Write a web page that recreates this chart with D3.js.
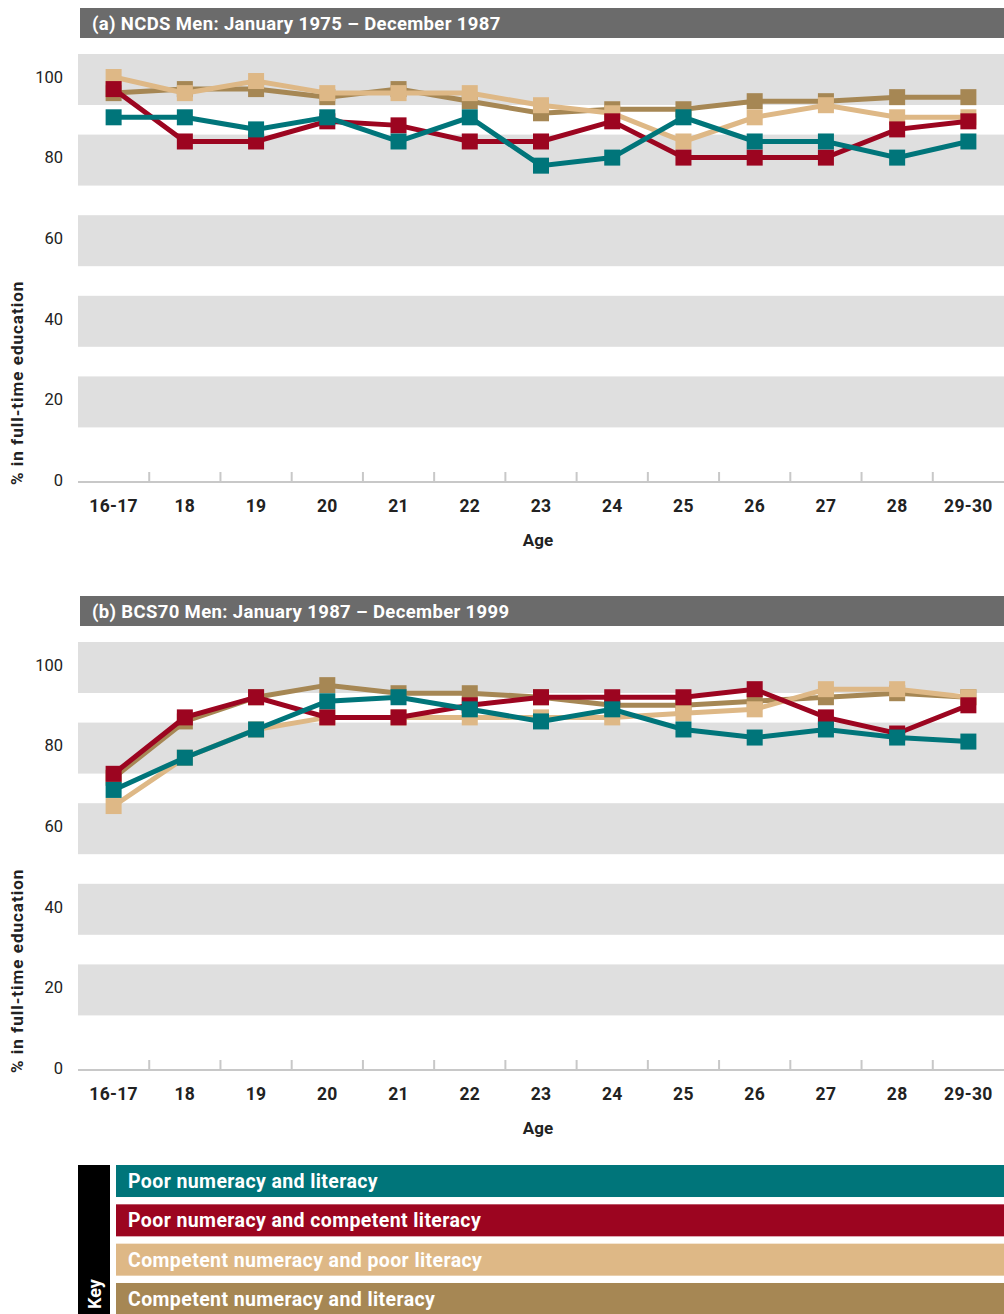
<!DOCTYPE html>
<html>
<head>
<meta charset="utf-8">
<script src="https://cdn.jsdelivr.net/npm/d3@7"></script>
<style>
  body { margin: 0; background: #fff; }
  svg { display: block; font-family: Roboto, "DejaVu Sans", sans-serif; }
</style>
</head>
<body>
<svg id="chart" width="1004" height="1314"></svg>
<script>
'use strict';

// x categories and y ticks
var ages = ['16-17', '18', '19', '20', '21', '22', '23', '24', '25', '26', '27', '28', '29-30'];
var yTicks = [0, 20, 40, 60, 80, 100];

// legend labels, same order as the series arrays below
var seriesNames = [
  'Poor numeracy and literacy',
  'Poor numeracy and competent literacy',
  'Competent numeracy and poor literacy',
  'Competent numeracy and literacy'
];
var seriesColors = ['#00757a', '#9c0520', '#deb886', '#a68754'];

// (a) NCDS
var ncdsPoorBoth = [90, 90, 87, 90, 84, 90, 78, 80, 90, 84, 84, 80, 84];
var ncdsPoorNumCompLit = [97, 84, 84, 89, 88, 84, 84, 89, 80, 80, 80, 87, 89];
var ncdsCompNumPoorLit = [100, 96, 99, 96, 96, 96, 93, 91, 84, 90, 93, 90, 90];
var ncdsCompBoth = [96, 97, 97, 95, 97, 94, 91, 92, 92, 94, 94, 95, 95];

// (b) BCS70
var bcsPoorBoth = [69, 77, 84, 91, 92, 89, 86, 89, 84, 82, 84, 82, 81];
var bcsPoorNumCompLit = [73, 87, 92, 87, 87, 90, 92, 92, 92, 94, 87, 83, 90];
var bcsCompNumPoorLit = [65, 77, 84, 87, 87, 87, 87, 87, 88, 89, 94, 94, 92];
var bcsCompBoth = [72, 86, 92, 95, 93, 93, 92, 90, 90, 91, 92, 93, 92];

var panels = [
  { title: '(a) NCDS Men: January 1975 \u2013 December 1987', top: 0,
    series: [ncdsPoorBoth, ncdsPoorNumCompLit, ncdsCompNumPoorLit, ncdsCompBoth] },
  { title: '(b) BCS70 Men: January 1987 \u2013 December 1999', top: 588,
    series: [bcsPoorBoth, bcsPoorNumCompLit, bcsCompNumPoorLit, bcsCompBoth] }
];

var svg = d3.select('#chart');

var x = d3.scaleBand().domain(ages).range([78, 1004]);
var y = d3.scaleLinear().domain([0, 100]).range([480, 77]);

function cx(a) { return x(a) + x.bandwidth() / 2; }

panels.forEach(function(p) {
  var g = svg.append('g').attr('transform', 'translate(0,' + p.top + ')');

  // title bar
  g.append('rect')
    .attr('x', 80).attr('y', 8).attr('width', 924).attr('height', 30)
    .attr('fill', '#6b6b6b');
  g.append('text')
    .attr('x', 92).attr('y', 29.5)
    .attr('fill', '#fff')
    .style('font-size', '18.5px')
    .style('font-weight', 'bold')
    .style('letter-spacing', '0.35px')
    .text(p.title);

  // grey bands behind the gridline values
  g.selectAll('rect.band')
    .data(yTicks.filter(function(d) { return d > 0; }))
    .enter().append('rect')
    .attr('class', 'band')
    .attr('x', 78)
    .attr('width', 926)
    .attr('y', function(d) { return y(d) - 23; })
    .attr('height', 51)
    .attr('fill', '#dfdfdf');

  // y axis labels
  var yAxis = g.append('g')
    .attr('transform', 'translate(63,0)')
    .call(d3.axisLeft(y).tickValues(yTicks).tickSize(0).tickPadding(0));
  yAxis.select('.domain').remove();
  yAxis.selectAll('text')
    .attr('fill', '#222')
    .style('font-size', '16.5px')
    .style('font-family', 'Roboto, sans-serif');

  g.append('text')
    .attr('transform', 'translate(23,485) rotate(-90)')
    .attr('fill', '#222')
    .style('font-size', '17px')
    .style('font-weight', 'bold')
    .style('letter-spacing', '1px')
    .text('% in full-time education');

  // x axis: line with ticks on the category boundaries
  g.append('line')
    .attr('x1', 78).attr('x2', 1004).attr('y1', 482).attr('y2', 482)
    .attr('stroke', '#c8c8c8').attr('stroke-width', 2);
  g.selectAll('line.tick')
    .data(ages.slice(1))
    .enter().append('line')
    .attr('class', 'tick')
    .attr('x1', function(d) { return x(d); })
    .attr('x2', function(d) { return x(d); })
    .attr('y1', 472).attr('y2', 482)
    .attr('stroke', '#c8c8c8').attr('stroke-width', 2);

  var xAxis = g.append('g')
    .attr('transform', 'translate(0,494)')
    .call(d3.axisBottom(x).tickSize(0).tickPadding(0));
  xAxis.select('.domain').remove();
  xAxis.selectAll('text')
    .attr('fill', '#222')
    .attr('dy', '1em')
    .style('font-size', '17.5px')
    .style('font-weight', 'bold')
    .style('letter-spacing', '0.3px')
    .style('font-family', 'Roboto, sans-serif');

  g.append('text')
    .attr('x', 538).attr('y', 546)
    .attr('text-anchor', 'middle')
    .attr('fill', '#222')
    .style('font-size', '17px')
    .style('font-weight', 'bold')
    .text('Age');

  // lines, drawn back to front so the teal series sits on top
  var line = d3.line()
    .x(function(d, i) { return cx(ages[i]); })
    .y(function(d) { return y(d); });

  [3, 2, 1, 0].forEach(function(k) {
    var s = g.append('g');
    s.append('path')
      .datum(p.series[k])
      .attr('d', line)
      .attr('fill', 'none')
      .attr('stroke', seriesColors[k])
      .attr('stroke-width', 5);
    s.selectAll('rect')
      .data(p.series[k])
      .enter().append('rect')
      .attr('x', function(d, i) { return cx(ages[i]) - 8; })
      .attr('y', function(d) { return y(d) - 8; })
      .attr('width', 16)
      .attr('height', 16)
      .attr('fill', seriesColors[k]);
  });
});

// key
var key = svg.append('g');
key.append('rect')
  .attr('x', 78).attr('y', 1165).attr('width', 32).attr('height', 149)
  .attr('fill', '#000');
key.append('text')
  .attr('transform', 'translate(101,1309) rotate(-90)')
  .attr('fill', '#fff')
  .style('font-size', '18px')
  .style('font-weight', 'bold')
  .text('Key');

var keyRow = d3.scaleBand().domain(seriesNames).range([1165, 1315]).paddingInner(0.186);

var items = key.selectAll('g.item')
  .data(seriesNames)
  .enter().append('g')
  .attr('class', 'item')
  .attr('transform', function(d) { return 'translate(116,' + keyRow(d) + ')'; });

items.append('rect')
  .attr('width', 888)
  .attr('height', keyRow.bandwidth())
  .attr('fill', function(d, i) { return seriesColors[i]; });

items.append('text')
  .attr('x', 12)
  .attr('y', keyRow.bandwidth() / 2)
  .attr('dy', '0.36em')
  .attr('fill', '#fff')
  .style('font-size', '19.5px')
  .style('font-weight', 'bold')
  .style('letter-spacing', '0.4px')
  .text(function(d) { return d; });
</script>
</body>
</html>
